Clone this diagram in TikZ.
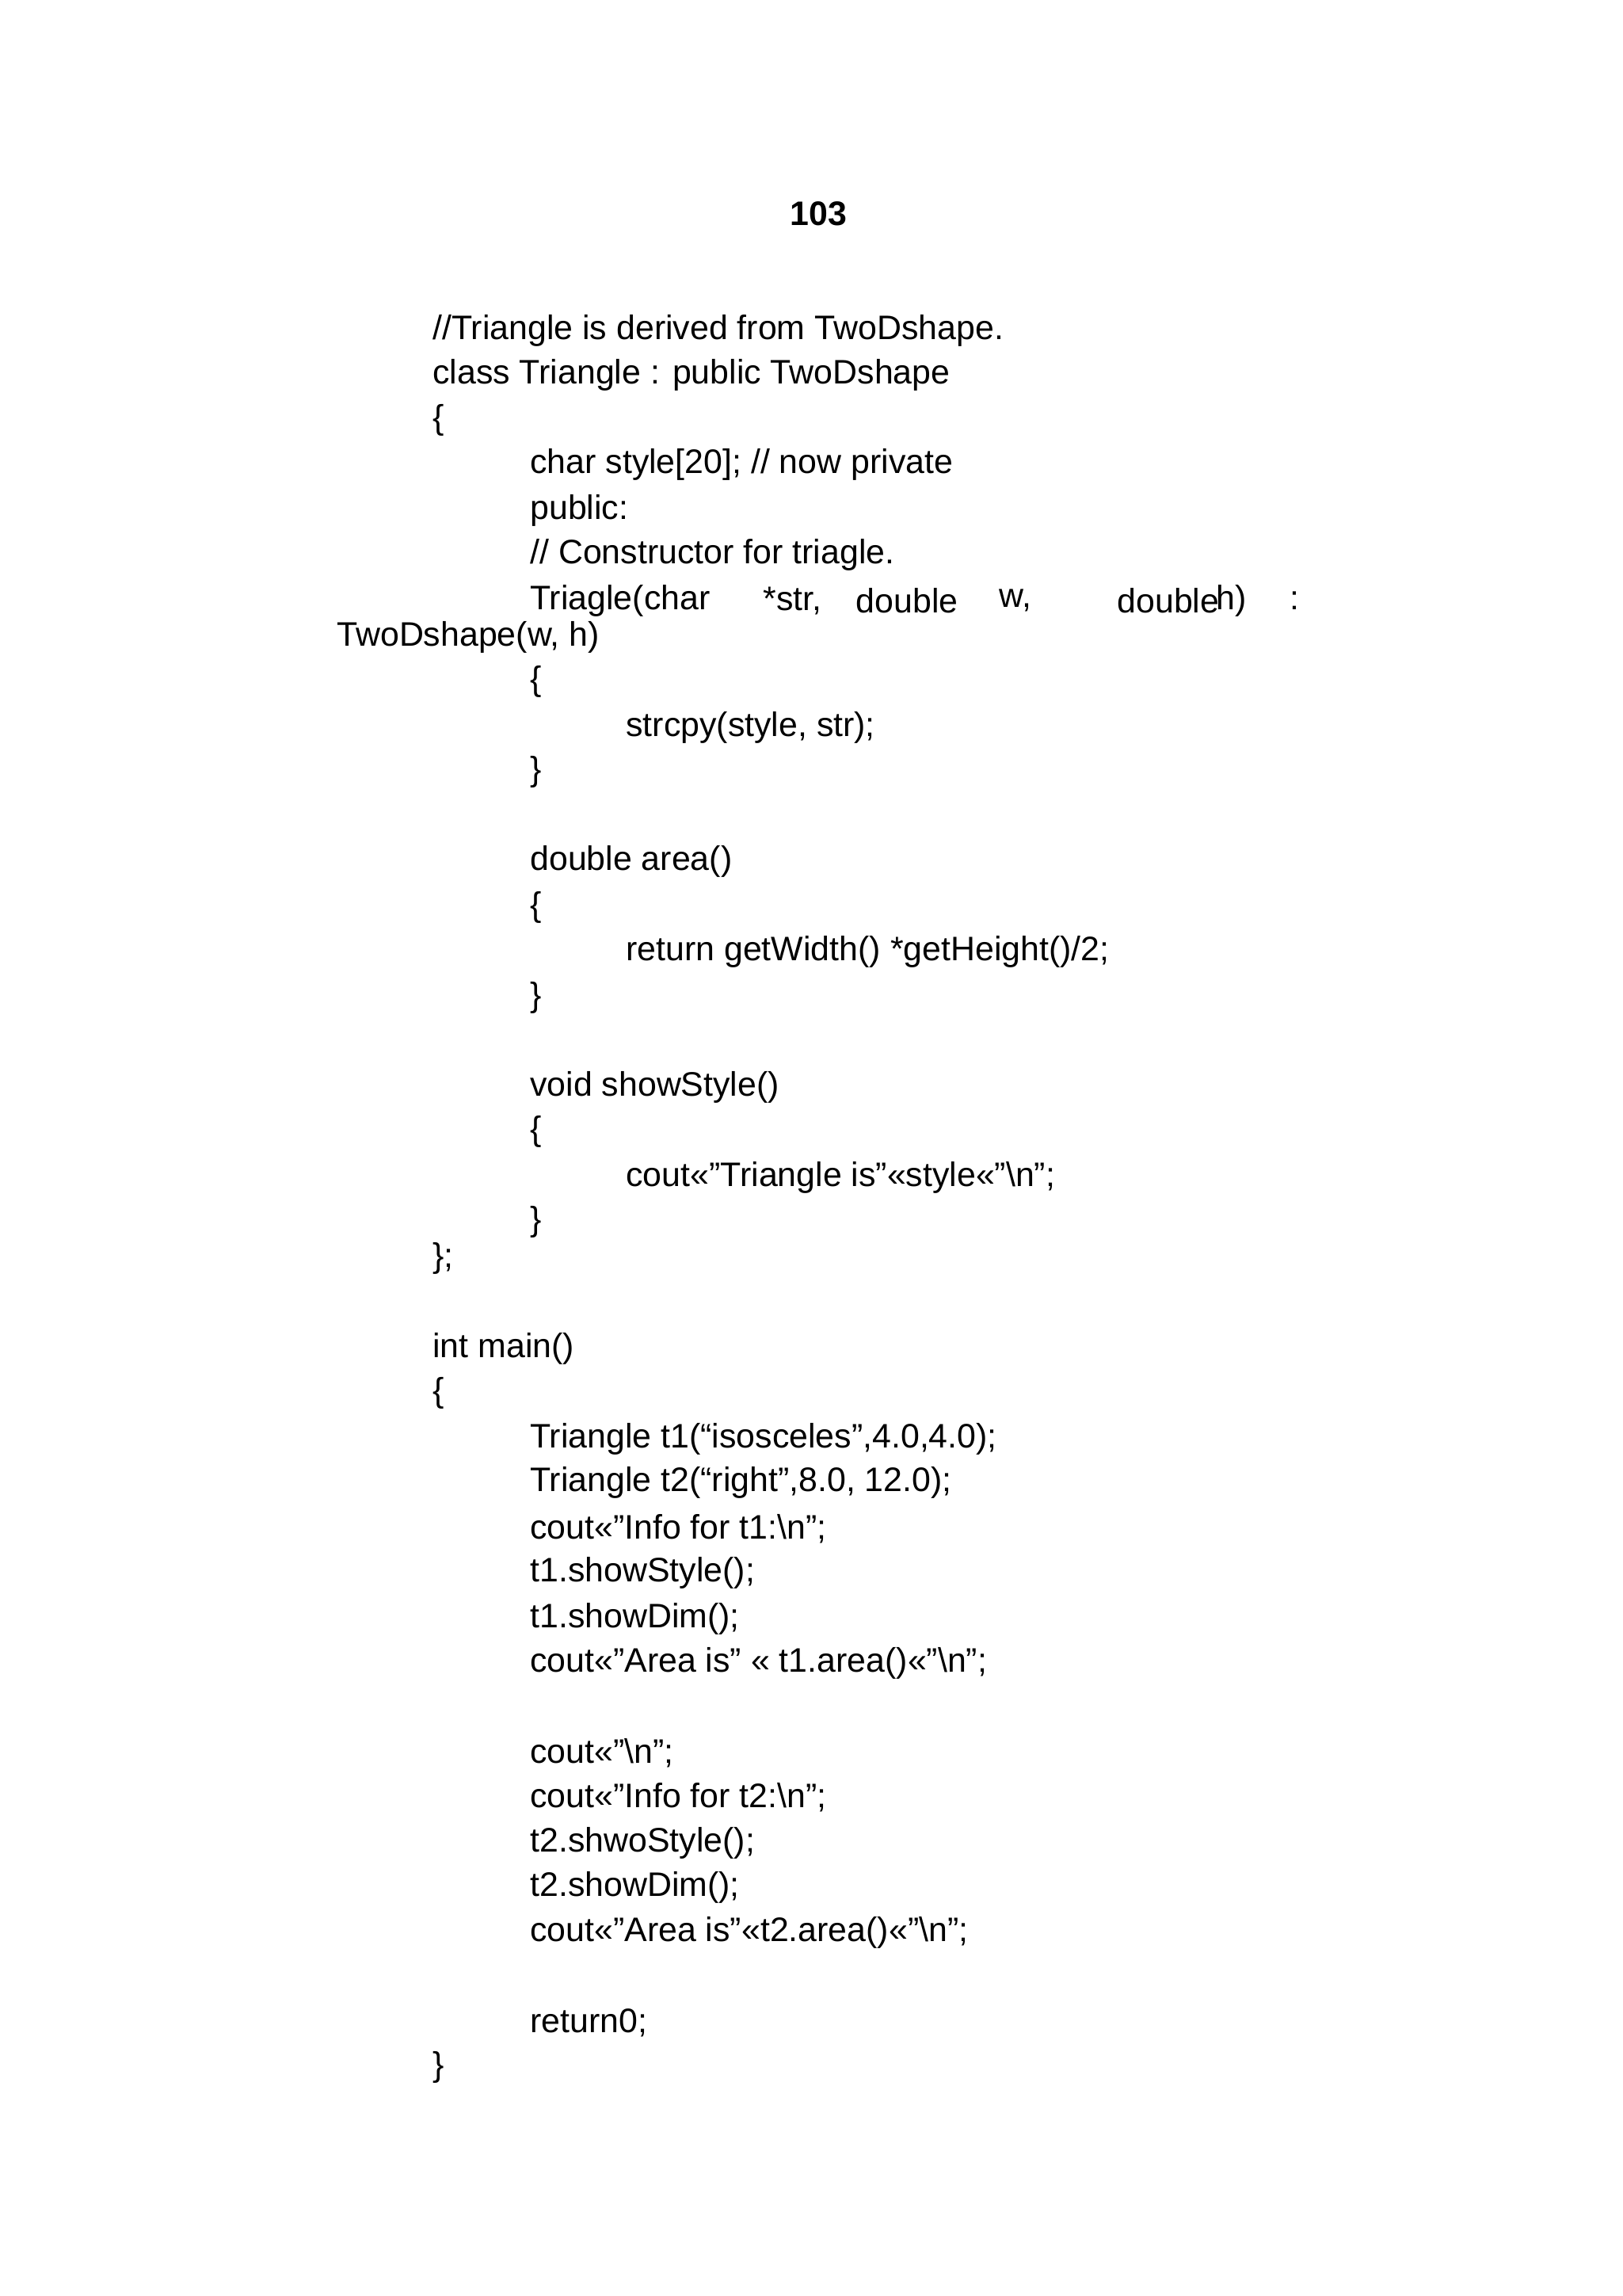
\documentclass[tikz,border=0pt]{standalone}
\usepackage{fontspec}
\setmainfont{Liberation Sans}
\begin{document}
\begin{tikzpicture}[x=0.1862mm,y=-0.1862mm,
  t/.style={anchor=west,inner sep=0pt,font=\fontsize{12.2}{14}\selectfont}]
\useasboundingbox[fill=white] (0,0) rectangle (1100,1556);
\node[inner sep=0pt,font=\fontsize{12.2}{14}\selectfont\bfseries] (pg) at (555,145) {103};
\def\A{293}\def\B{359}\def\C{424}
\node[t] (l1) at (\A,224) {//Triangle is derived from TwoDshape.};
\node[t] (l2) at (\A,254) {class Triangle : public TwoDshape};
\node[t] (l3) at (\A,285) {\{};
\node[t] (l4) at (\B,315) {char style[20]; // now private};
\node[t] (l5) at (\B,346) {public:};
\node[t] (l6) at (\B,376) {// Constructor for triagle.};
\node[t] (w1) at (\B,407) {Triagle(char};
\node[t] (w2) at (517,407) {*str,};
\node[t] (w3) at (580,407) {double};
\node[t] (w4) at (677,407) {w,};
\node[t] (w5) at (757,407) {double};
\node[t] (w6) at (824,407) {h)};
\node[t] (w7) at (874,407) {:};
\node[t] (l8) at (228,432) {TwoDshape(w, h)};
\node[t] (l9) at (\B,462) {\{};
\node[t] (l10) at (\C,493) {strcpy(style, str);};
\node[t] (l11) at (\B,523) {\}};
\node[t] (l12) at (\B,584) {double area()};
\node[t] (l13) at (\B,615) {\{};
\node[t] (l14) at (\C,645) {return getWidth() *getHeight()/2;};
\node[t] (l15) at (\B,676) {\}};
\node[t] (l16) at (\B,737) {void showStyle()};
\node[t] (l17) at (\B,767) {\{};
\node[t] (l18) at (\C,798) {cout<<”Triangle is”<<style<<”\textbackslash n”;};
\node[t] (l19) at (\B,828) {\}};
\node[t] (l20) at (\A,853) {\};};
\node[t] (l21) at (\A,914) {int main()};
\node[t] (l22) at (\A,944) {\{};
\node[t] (l23) at (\B,975) {Triangle t1(“isosceles”,4.0,4.0);};
\node[t] (l24) at (\B,1005) {Triangle t2(“right”,8.0, 12.0);};
\node[t] (l25) at (\B,1036) {cout<<”Info for t1:\textbackslash n”;};
\node[t] (l26) at (\B,1066) {t1.showStyle();};
\node[t] (l27) at (\B,1097) {t1.showDim();};
\node[t] (l28) at (\B,1127) {cout<<”Area is” << t1.area()<<”\textbackslash n”;};
\node[t] (l29) at (\B,1188) {cout<<”\textbackslash n”;};
\node[t] (l30) at (\B,1218) {cout<<”Info for t2:\textbackslash n”;};
\node[t] (l31) at (\B,1249) {t2.shwoStyle();};
\node[t] (l32) at (\B,1279) {t2.showDim();};
\node[t] (l33) at (\B,1310) {cout<<”Area is”<<t2.area()<<”\textbackslash n”;};
\node[t] (l34) at (\B,1371) {return0;};
\node[t] (l35) at (\A,1401) {\}};
\end{tikzpicture}
\end{document}
